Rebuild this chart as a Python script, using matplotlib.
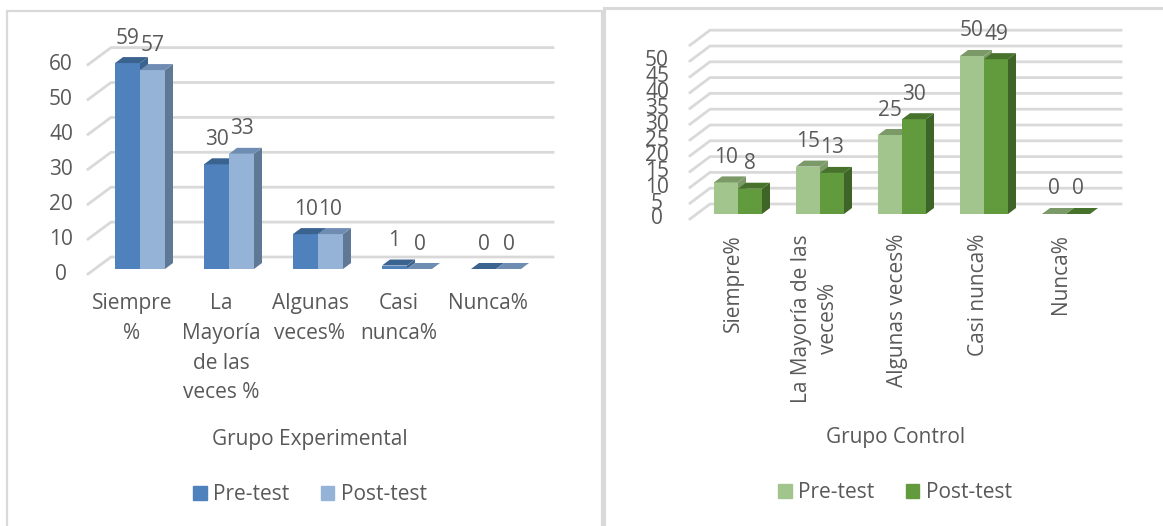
import matplotlib
matplotlib.use("Agg")
import matplotlib.pyplot as plt
from matplotlib.patches import Polygon, Rectangle, Patch

# datos
cats_exp = ["Siempre\n%", "La\nMayoría\nde las\nveces %", "Algunas\nveces%", "Casi\nnunca%", "Nunca%"]
pre_exp = [59, 30, 10, 1, 0]
post_exp = [57, 33, 10, 0, 0]
ticks_exp = [0, 10, 20, 30, 40, 50, 60]

cats_ctl = ["Siempre%", "La Mayoría de las\nveces%", "Algunas veces%", "Casi nunca%", "Nunca%"]
pre_ctl = [10, 15, 25, 50, 0]
post_ctl = [8, 13, 30, 49, 0]
ticks_ctl = [0, 5, 10, 15, 20, 25, 30, 35, 40, 45, 50]
grid_ctl = ticks_ctl + [55]

W, H = 1163, 526
TXT = "#595959"
GRID = "#D9D9D9"
plt.rcParams['font.family'] = ['Open Sans', 'DejaVu Sans']
FS = 15

fig = plt.figure(figsize=(W / 100, H / 100), dpi=100)


def px_axes(box, x0px, cpx, y0px, vpx):
    """ejes cuyo rango de datos coincide con una caja en pixeles"""
    l, t, r, b = box
    ax = fig.add_axes([l / W, 1 - b / H, (r - l) / W, (b - t) / H])
    ax.set_xlim((l - x0px) / cpx, (r - x0px) / cpx)
    ax.set_ylim((y0px - b) / vpx, (y0px - t) / vpx)
    ax.axis("off")
    return ax


def draw_3d(ax, pre, post, colors, grid, ticks, g):
    cpx, vpx = g["cpx"], g["vpx"]
    wall_dy = g["wall"] / vpx
    floor_dy = 5 / vpx
    xf = (g["xfront"] - g["x0"]) / cpx
    xb = (g["xback"] - g["x0"]) / cpx
    xr = (g["xright"] - g["x0"]) / cpx
    for v in grid:
        ax.plot([xf, xb, xr], [v - floor_dy, v + wall_dy, v + wall_dy],
                color=GRID, lw=2, solid_joinstyle="miter", zorder=1)
    for v in ticks:
        ax.text((g["tickx"] - g["x0"]) / cpx, v - floor_dy, str(v), ha="center",
                va="center", fontsize=FS, color=TXT)

    w = g["barw"] / cpx
    ddx, ddy = 8 / cpx, 6 / vpx
    for s, vals in enumerate([pre, post]):
        front, top, side = colors[s]
        for i, v in enumerate(vals):
            x0 = i - w + s * w
            z = 3 + i * 3 + s
            if v > 0:
                ax.add_patch(Rectangle((x0, 0), w, v, facecolor=front, edgecolor="none", zorder=z))
                ax.add_patch(Polygon([(x0 + w, 0), (x0 + w + ddx, ddy), (x0 + w + ddx, v + ddy), (x0 + w, v)],
                                     facecolor=side, edgecolor="none", zorder=z))
            ax.add_patch(Polygon([(x0, v), (x0 + w, v), (x0 + w + ddx, v + ddy), (x0 + ddx, v + ddy)],
                                 facecolor=top, edgecolor="none", zorder=z))
            ax.text(x0 + w / 2, v + 25 / vpx, str(v), ha="center", va="center",
                    fontsize=FS, color=TXT, zorder=20)


# bordes de los paneles
fig.patches.append(Rectangle((7 / W, -0.1), (602 - 7) / W, 1.1 - 11 / H, transform=fig.transFigure,
                             fill=False, edgecolor=GRID, lw=1.6))
fig.patches.append(Rectangle((604 / W, -0.1), 0.5, 1.1 - 8 / H, transform=fig.transFigure,
                             fill=False, edgecolor=GRID, lw=2.2))

# Grupo Experimental
ge = dict(x0=140, cpx=89, y0=269, vpx=3.49, wall=12, xfront=88, xback=111, xright=553,
          tickx=61, barw=25)
ax1 = px_axes((40, 20, 580, 300), ge["x0"], ge["cpx"], ge["y0"], ge["vpx"])
blue = [("#4F81BD", "#3B6390", "#3B6390"), ("#95B3D7", "#6F8DB3", "#5F7896")]
draw_3d(ax1, pre_exp, post_exp, blue, ticks_exp, ticks_exp, ge)
for i, c in enumerate(cats_exp):
    ax1.text(i - 8 / ge["cpx"], (ge["y0"] - 293) / ge["vpx"], c, ha="center", va="top",
             fontsize=FS, color=TXT, linespacing=1.55, multialignment="center", clip_on=False)
fig.text(310 / W, 1 - 440 / H, "Grupo Experimental", ha="center", va="center", fontsize=FS, color=TXT)
fig.legend(handles=[Patch(color=blue[0][0], label="Pre-test"), Patch(color=blue[1][0], label="Post-test")],
           loc="center", bbox_to_anchor=(310 / W, 1 - 495 / H), ncol=2, frameon=False, fontsize=FS,
           handlelength=0.65, handleheight=0.65, handletextpad=0.3, columnspacing=1.5, labelcolor=TXT)

# Grupo Control
gc = dict(x0=738, cpx=82, y0=214, vpx=3.16, wall=10, xfront=690, xback=710, xright=1121,
          tickx=657, barw=24)
ax2 = px_axes((620, 20, 1150, 240), gc["x0"], gc["cpx"], gc["y0"], gc["vpx"])
green = [("#A2C58D", "#7B9A68", "#7B9A68"), ("#629B3E", "#46722B", "#3F6427")]
draw_3d(ax2, pre_ctl, post_ctl, green, grid_ctl, ticks_ctl, gc)
for i, c in enumerate(cats_ctl):
    ax2.text(i - 5 / gc["cpx"], (gc["y0"] - 234) / gc["vpx"], c, ha="center", va="top", rotation=90,
             fontsize=FS, color=TXT, linespacing=1.35, multialignment="center", clip_on=False)
fig.text(896 / W, 1 - 438 / H, "Grupo Control", ha="center", va="center", fontsize=FS, color=TXT)
fig.legend(handles=[Patch(color=green[0][0], label="Pre-test"), Patch(color=green[1][0], label="Post-test")],
           loc="center", bbox_to_anchor=(895 / W, 1 - 493 / H), ncol=2, frameon=False, fontsize=FS,
           handlelength=0.65, handleheight=0.65, handletextpad=0.3, columnspacing=1.5, labelcolor=TXT)

fig.savefig("out.png", dpi=100, facecolor="white")
